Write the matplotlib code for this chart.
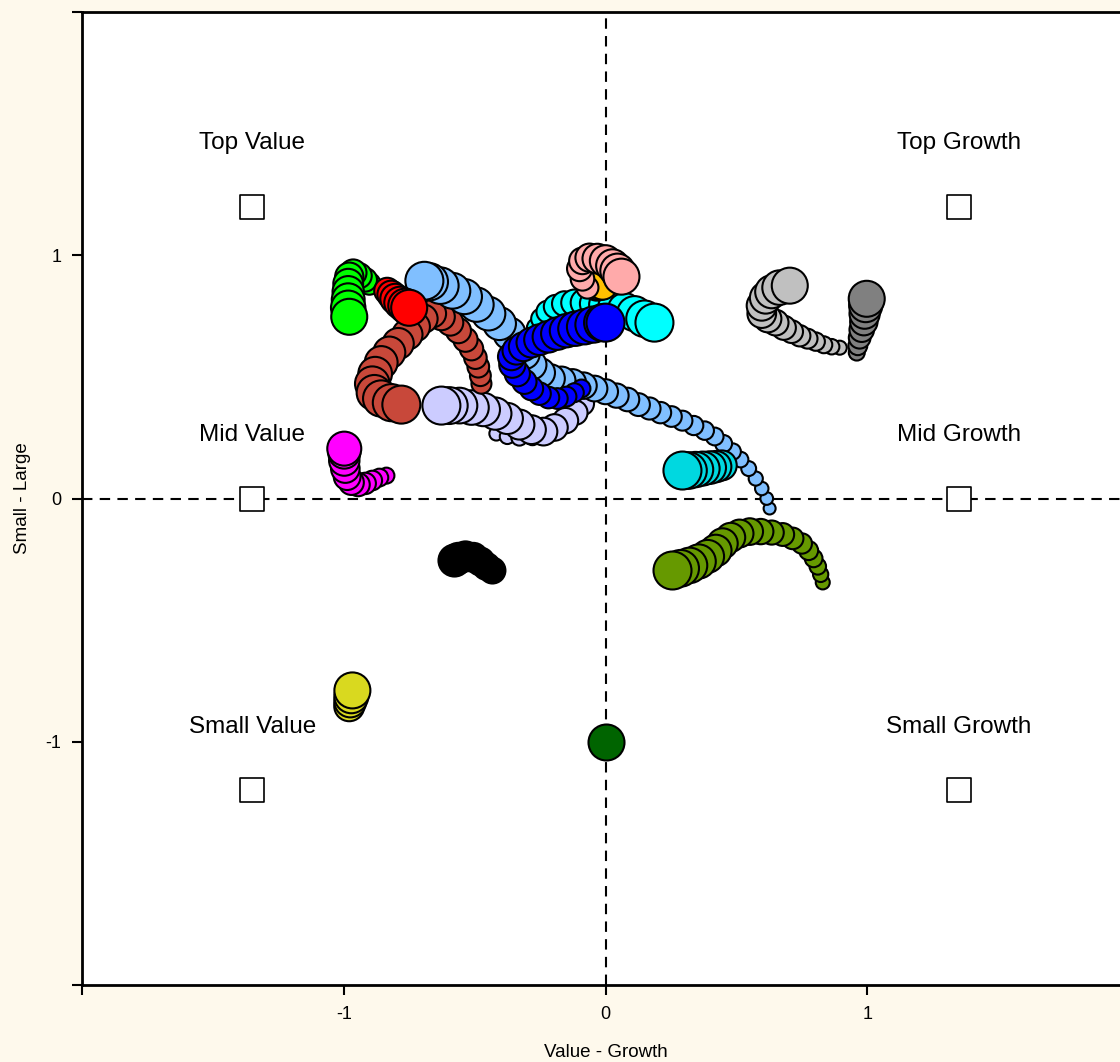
import numpy as np
import matplotlib
matplotlib.use("Agg")
import matplotlib.pyplot as plt

plt.rcParams['font.family'] = ['Liberation Sans', 'DejaVu Sans']

# ---- data (Value-Growth x, Small-Large y), oldest -> newest ----
lavender_x = [-0.417, -0.375, -0.329, -0.279, -0.229, -0.184, -0.141, -0.107, -0.088, -0.115, -0.153, -0.195,
              -0.237, -0.283, -0.329, -0.375, -0.421, -0.467, -0.512, -0.558, -0.597, -0.627]
lavender_y = [0.267, 0.255, 0.251, 0.255, 0.275, 0.308, 0.345, 0.378, 0.390, 0.353, 0.320, 0.292,
              0.275, 0.283, 0.304, 0.329, 0.349, 0.366, 0.374, 0.382, 0.382, 0.382]

brown_x = [-0.474, -0.478, -0.486, -0.497, -0.512, -0.535, -0.562, -0.593, -0.627, -0.662, -0.696,
           -0.727, -0.757, -0.792, -0.826, -0.857, -0.880, -0.891, -0.883, -0.857, -0.818, -0.780]
brown_y = [0.472, 0.505, 0.542, 0.579, 0.616, 0.653, 0.690, 0.723, 0.747, 0.760, 0.739,
           0.706, 0.674, 0.637, 0.600, 0.559, 0.513, 0.472, 0.435, 0.411, 0.394, 0.386]

lightblue_x = [0.627, 0.616, 0.597, 0.574, 0.547, 0.516, 0.486, 0.451, 0.417, 0.379, 0.337, 0.294, 0.252,
               0.210, 0.168, 0.126, 0.084, 0.042, 0.000, -0.042, -0.084, -0.126, -0.168, -0.210, -0.249,
               -0.283, -0.310, -0.337, -0.367, -0.405, -0.447, -0.493, -0.539, -0.585, -0.631, -0.673, -0.692]
lightblue_y = [-0.041, 0.000, 0.041, 0.082, 0.123, 0.160, 0.193, 0.226, 0.255, 0.279, 0.300, 0.320, 0.337,
               0.353, 0.370, 0.386, 0.407, 0.423, 0.439, 0.452, 0.464, 0.476, 0.485, 0.493, 0.517,
               0.550, 0.595, 0.637, 0.678, 0.719, 0.760, 0.797, 0.830, 0.854, 0.875, 0.891, 0.895]

green_x = [-0.902, -0.918, -0.941, -0.964, -0.979, -0.983, -0.983, -0.983, -0.983, -0.979]
green_y = [0.883, 0.899, 0.916, 0.928, 0.912, 0.883, 0.850, 0.817, 0.784, 0.747]

red_x = [-0.834, -0.818, -0.803, -0.784, -0.765, -0.750]
red_y = [0.854, 0.838, 0.821, 0.805, 0.793, 0.784]

cyan_x = [-0.291, -0.279, -0.264, -0.245, -0.222, -0.191, -0.157, -0.119, -0.080, -0.042, -0.004,
          0.034, 0.073, 0.111, 0.149, 0.187]
cyan_y = [0.628, 0.665, 0.702, 0.739, 0.768, 0.789, 0.801, 0.805, 0.805, 0.801, 0.797,
          0.789, 0.776, 0.760, 0.739, 0.723]

orange_x = [-0.034, -0.023, -0.011]
orange_y = [0.871, 0.875, 0.879]

pink_x = [-0.069, -0.088, -0.099, -0.088, -0.061, -0.031, 0.000, 0.027, 0.046, 0.061]
pink_y = [0.867, 0.903, 0.945, 0.977, 0.990, 0.986, 0.977, 0.957, 0.936, 0.912]

blue_x = [-0.092, -0.119, -0.149, -0.184, -0.218, -0.252, -0.283, -0.310, -0.337, -0.356, -0.359, -0.340,
          -0.314, -0.283, -0.252, -0.218, -0.184, -0.149, -0.115, -0.080, -0.046, -0.011, 0.000]
blue_y = [0.452, 0.435, 0.419, 0.411, 0.415, 0.431, 0.452, 0.480, 0.513, 0.550, 0.583, 0.608,
          0.624, 0.641, 0.653, 0.665, 0.678, 0.690, 0.698, 0.706, 0.715, 0.723, 0.723]

silver_x = [0.895, 0.864, 0.834, 0.803, 0.772, 0.742, 0.711, 0.681, 0.650, 0.620, 0.597, 0.597,
            0.612, 0.635, 0.665, 0.704]
silver_y = [0.620, 0.624, 0.632, 0.645, 0.657, 0.669, 0.686, 0.702, 0.723, 0.739, 0.760, 0.793,
            0.825, 0.850, 0.867, 0.875]

gray_x = [0.960, 0.964, 0.971, 0.979, 0.987, 0.990, 0.994, 0.998]
gray_y = [0.600, 0.628, 0.661, 0.694, 0.727, 0.760, 0.793, 0.821]

turq_x = [0.444, 0.421, 0.398, 0.371, 0.344, 0.317, 0.294]
turq_y = [0.136, 0.131, 0.127, 0.123, 0.119, 0.115, 0.115]

magenta_x = [-0.837, -0.864, -0.891, -0.918, -0.945, -0.971, -0.987, -0.994, -0.998, -0.998, -0.998]
magenta_y = [0.094, 0.086, 0.074, 0.062, 0.057, 0.066, 0.090, 0.123, 0.156, 0.189, 0.205]

black_x = [-0.432, -0.455, -0.478, -0.505, -0.535, -0.562, -0.577]
black_y = [-0.296, -0.279, -0.259, -0.242, -0.238, -0.246, -0.255]

olive_x = [0.830, 0.822, 0.811, 0.795, 0.776, 0.750, 0.715, 0.677, 0.635, 0.593, 0.551, 0.512,
           0.478, 0.447, 0.421, 0.390, 0.356, 0.321, 0.287, 0.256]
olive_y = [-0.345, -0.312, -0.279, -0.246, -0.214, -0.185, -0.164, -0.148, -0.140, -0.136, -0.136, -0.144,
           -0.160, -0.185, -0.214, -0.238, -0.259, -0.275, -0.287, -0.296]

yellow_x = [-0.979, -0.975, -0.971, -0.967]
yellow_y = [-0.854, -0.834, -0.813, -0.789]

dkgreen_x = [0.0]
dkgreen_y = [-1.0]

# style boxes
box_labels = ["Top Value", "Mid Value", "Small Value", "Top Growth", "Mid Growth", "Small Growth"]
box_x = [-1.35, -1.35, -1.35, 1.35, 1.35, 1.35]
box_y = [1.2, 0.0, -1.2, 1.2, 0.0, -1.2]

tick_vals = [-2, -1, 0, 1, 2]
tick_labels = ["", "-1", "0", "1", ""]

# series: x, y, color, start diameter px, end diameter px
series = [
    (lavender_x, lavender_y, "#CCCCFF", 14, 38),
    (brown_x, brown_y, "#C8483A", 20, 38),
    (lightblue_x, lightblue_y, "#80BFFF", 12, 38),
    (green_x, green_y, "#00FF00", 22, 36),
    (red_x, red_y, "#FF0000", 26, 36),
    (cyan_x, cyan_y, "#00FFFF", 16, 38),
    (orange_x, orange_y, "#FFC000", 28, 30),
    (pink_x, pink_y, "#FFAAAA", 22, 36),
    (blue_x, blue_y, "#0000FF", 18, 38),
    (silver_x, silver_y, "#C0C0C0", 14, 36),
    (gray_x, gray_y, "#808080", 16, 36),
    (turq_x, turq_y, "#00D8E0", 30, 38),
    (magenta_x, magenta_y, "#FF00FF", 16, 34),
    (black_x, black_y, "#000000", 26, 32),
    (olive_x, olive_y, "#669900", 14, 38),
    (yellow_x, yellow_y, "#D9D91F", 30, 36),
    (dkgreen_x, dkgreen_y, "#006400", 36, 36),
]

W, H = 1120, 1062
fig = plt.figure(figsize=(W / 100, H / 100), dpi=100, facecolor="#FEF9EC")
ax = fig.add_axes([82 / W, 77 / H, (1129 - 82) / W, (985 - 12) / H])
ax.set_facecolor("white")
ax.set_xlim(-2, 2)
ax.set_ylim(-2, 2)

ax.axhline(0, color="black", lw=1.5, ls=(0, (5, 3.5)), zorder=1)
ax.axvline(0, color="black", lw=1.5, ls=(0, (5, 3.5)), zorder=1)

ax.scatter(box_x, box_y, marker="s", s=(24 * 0.72) ** 2, facecolors="white",
           edgecolors="black", linewidths=1.2, zorder=2)
for lx, ly, lab in zip(box_x, box_y, box_labels):
    ax.text(lx, ly + 0.26, lab, ha="center", va="center", fontsize=17.5, zorder=2)

z = 3
for xs, ys, col, d0, d1 in series:
    n = len(xs)
    d = np.linspace(d0, d1, n) * 0.72
    ax.scatter(xs, ys, s=d ** 2, c=col, edgecolors="black", linewidths=1.5, zorder=z)
    z += 1

ax.set_xticks(tick_vals)
ax.set_xticklabels(tick_labels)
ax.set_yticks(tick_vals)
ax.set_yticklabels(tick_labels)
ax.tick_params(axis="both", direction="out", length=7, width=1.5, labelsize=13, pad=8)

for side in ["left", "bottom", "top", "right"]:
    ax.spines[side].set_linewidth(2)

ax.set_xlabel("Value - Growth", fontsize=13.5, labelpad=15)
ax.set_ylabel("Small - Large", fontsize=13.5, labelpad=10)

fig.savefig("out.png", dpi=100, facecolor=fig.get_facecolor())
